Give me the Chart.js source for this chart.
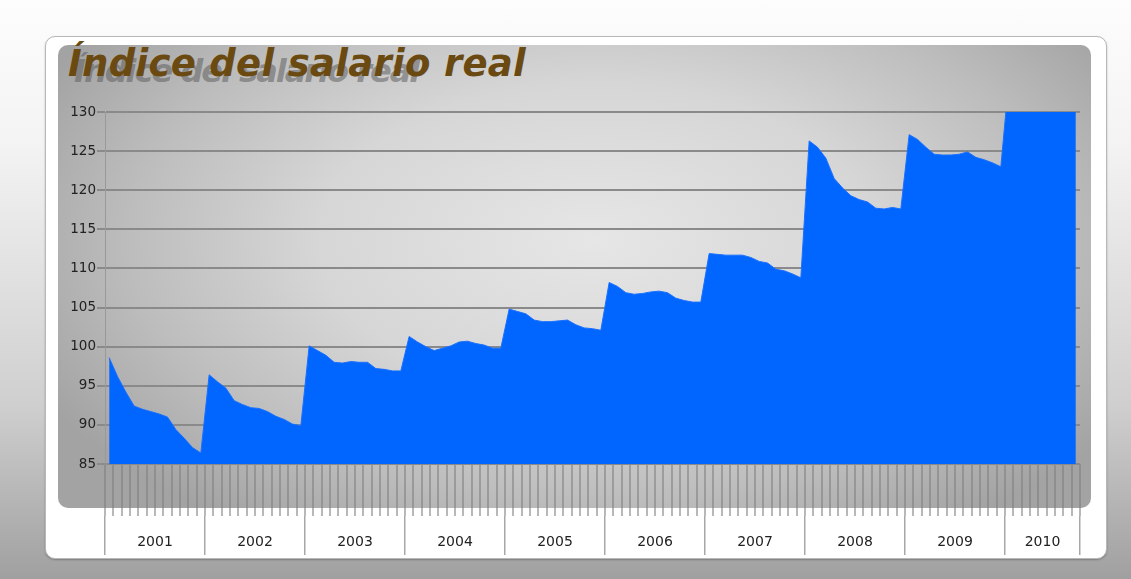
<!DOCTYPE html>
<html>
<head>
<meta charset="utf-8">
<script src="https://cdn.jsdelivr.net/npm/chart.js@4.4.1/dist/chart.umd.min.js"></script>
<style>
  html, body { margin: 0; padding: 0; }
  body {
    width: 1131px; height: 579px; overflow: hidden; position: relative;
    background: linear-gradient(to bottom, #fdfdfd 0%, #f3f3f3 25%, #cfcfcf 70%, #a0a0a0 100%);
    font-family: "DejaVu Sans", sans-serif;
  }
  #top-text { position: absolute; left: 520px; top: -17px; font-size: 17px; color: #555; }
  #card {
    position: absolute; left: 45px; top: 36px; width: 1060px; height: 521px;
    background: #fff; border: 1px solid #b8b8b8; border-radius: 10px;
    box-shadow: 0 1px 2px rgba(0,0,0,0.25);
  }
  #panel {
    position: absolute; left: 58px; top: 45px; width: 1033px; height: 463px;
    border-radius: 10px;
    background: radial-gradient(ellipse 60% 75% at 52% 42%, #e6e6e6 0%, #d6d6d6 45%, #bdbdbd 75%, #a3a3a3 100%);
  }
  #title, #ghost {
    position: absolute; font-weight: bold; font-style: italic; white-space: nowrap;
  }
  #ghost { left: 74px; top: 52px; font-size: 32px; letter-spacing: -2px; color: rgba(95,95,95,0.55); }
  #title { left: 68px; top: 42px; font-size: 37px; letter-spacing: 0.3px; color: #6b4a12; }
  #chart { position: absolute; left: 0; top: 0; }
</style>
</head>
<body>
<div id="top-text">Gráfico</div>
<div id="card"></div>
<div id="panel"></div>
<div id="ghost">Índice del salario real</div>
<div id="title">Índice del salario real</div>
<canvas id="chart" width="1131" height="579"></canvas>
<script>
// Años y cantidad de meses con datos en cada uno
const years = ["2001", "2002", "2003", "2004", "2005", "2006", "2007", "2008", "2009", "2010"];
const monthsPerYear = [12, 12, 12, 12, 12, 12, 12, 12, 12, 9];

// Valores mensuales del índice
const values2001 = [98.6, 96.2, 94.2, 92.4, 92.0, 91.7, 91.4, 91.0, 89.4, 88.3, 87.1, 86.4];
const values2002 = [96.4, 95.5, 94.7, 93.1, 92.6, 92.2, 92.1, 91.7, 91.1, 90.7, 90.1, 89.9];
const values2003 = [100.1, 99.5, 98.9, 98.0, 97.9, 98.1, 98.0, 98.0, 97.2, 97.1, 96.9, 96.9];
const values2004 = [101.3, 100.6, 100.0, 99.5, 99.8, 100.1, 100.6, 100.7, 100.4, 100.2, 99.8, 99.8];
const values2005 = [104.8, 104.5, 104.2, 103.4, 103.2, 103.2, 103.3, 103.4, 102.8, 102.4, 102.3, 102.1];
const values2006 = [108.2, 107.7, 106.9, 106.7, 106.8, 107.0, 107.1, 106.9, 106.2, 105.9, 105.7, 105.7];
const values2007 = [111.9, 111.8, 111.7, 111.7, 111.7, 111.4, 110.9, 110.7, 109.9, 109.7, 109.3, 108.8];
const values2008 = [126.3, 125.5, 124.1, 121.5, 120.3, 119.3, 118.8, 118.5, 117.7, 117.6, 117.8, 117.6];
const values2009 = [127.1, 126.5, 125.5, 124.6, 124.5, 124.5, 124.6, 124.9, 124.2, 123.9, 123.5, 123.0];
const values2010 = [134.6, 134.0, 133.5, 133.2, 133.0, 132.8, 132.6, 132.5, 132.3];

const yTicks = [85, 90, 95, 100, 105, 110, 115, 120, 125, 130];

const allValues = [].concat(values2001, values2002, values2003, values2004, values2005,
  values2006, values2007, values2008, values2009, values2010);

// Etiquetas mensuales (una por punto)
const monthLabels = [];
years.forEach((y, i) => {
  for (let m = 1; m <= monthsPerYear[i]; m++) monthLabels.push(y + "-" + m);
});

// Límites y centros de cada año en el eje de índices
const yearBounds = [-0.5];
const yearCenters = [];
monthsPerYear.forEach((n, i) => {
  const start = yearBounds[i];
  yearBounds.push(start + n);
  yearCenters.push(start + n / 2);
});

const axisFont = { family: "DejaVu Sans", size: 13.5 };

new Chart(document.getElementById("chart"), {
  type: "line",
  data: {
    labels: monthLabels,
    datasets: [{
      data: allValues,
      fill: "start",
      backgroundColor: "#0066ff",
      borderColor: "#1a70ff",
      borderWidth: 1,
      pointRadius: 0,
      tension: 0
    }]
  },
  options: {
    responsive: false,
    animation: false,
    devicePixelRatio: 1,
    layout: { padding: { left: 50, right: 51, top: 112, bottom: 24 } },
    plugins: { legend: { display: false }, tooltip: { enabled: false } },
    scales: {
      x: {
        type: "category",
        position: "bottom",
        offset: true,
        weight: 0,
        border: { display: false },
        grid: {
          offset: true,
          drawOnChartArea: false,
          tickLength: 52,
          color: "rgba(125,125,125,0.55)",
          lineWidth: 2
        },
        ticks: { display: false },
        afterFit: (scale) => { scale.height = 52; }
      },
      years: {
        type: "linear",
        position: "bottom",
        weight: 1,
        min: -0.5,
        max: yearBounds[yearBounds.length - 1],
        border: { display: false },
        afterBuildTicks: (scale) => {
          scale.ticks = yearBounds.concat(yearCenters).sort((a, b) => a - b).map((v) => ({ value: v }));
        },
        grid: {
          drawOnChartArea: false,
          tickLength: 39,
          lineWidth: 1.5,
          color: (ctx) => (ctx.tick && yearBounds.includes(ctx.tick.value)) ? "#a8a8a8" : "rgba(0,0,0,0)"
        },
        ticks: {
          autoSkip: false,
          maxRotation: 0,
          minRotation: 0,
          padding: -21,
          color: "#222",
          font: { family: "DejaVu Sans", size: 14 },
          callback: (value) => {
            const i = yearCenters.indexOf(value);
            return i >= 0 ? years[i] : "";
          }
        },
        afterFit: (scale) => { scale.height = 39; }
      },
      y: {
        min: 85,
        max: 130,
        afterBuildTicks: (scale) => { scale.ticks = yTicks.map((v) => ({ value: v })); },
        border: { display: true, color: "#999", width: 1 },
        grid: { color: "#8a8a8a", lineWidth: 2, tickLength: 8 },
        ticks: { color: "#222", font: axisFont, padding: 1 },
        afterFit: (scale) => { scale.width = 55; }
      }
    }
  }
});
</script>
</body>
</html>
